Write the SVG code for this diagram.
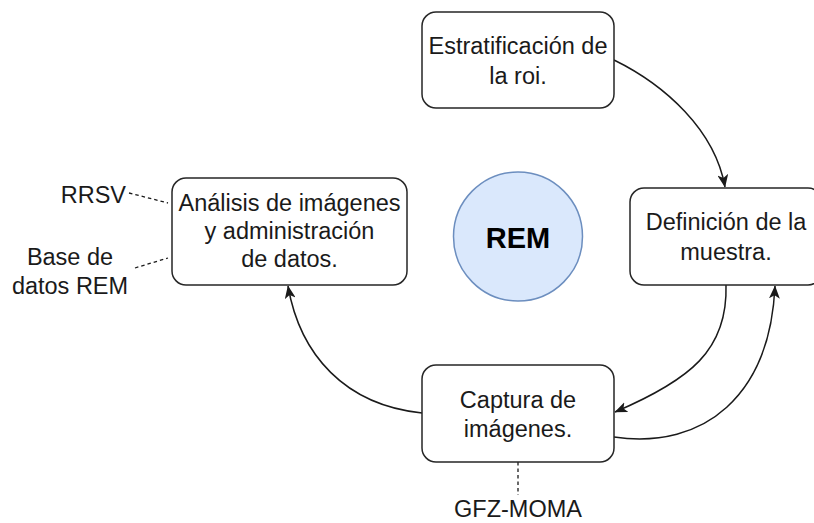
<svg xmlns="http://www.w3.org/2000/svg" width="814" height="523" viewBox="0 0 814 523">
<defs>
<style>
.box{fill:#ffffff;stroke:#262626;stroke-width:1.5}
.t{font-family:"Liberation Sans",Arial,sans-serif;font-size:23.5px;fill:#1a1a1a;text-anchor:middle}
.edge{fill:none;stroke:#1a1a1a;stroke-width:1.5}
.dash{fill:none;stroke:#1a1a1a;stroke-width:1.3;stroke-dasharray:3.5 3}
</style>
<marker id="arr" viewBox="0 0 12 10" refX="11.5" refY="5" markerWidth="13" markerHeight="11" markerUnits="userSpaceOnUse" orient="auto">
<path d="M0,0 L12,5 L0,10 L3,5 Z" fill="#1a1a1a"/>
</marker>
</defs>
<rect width="814" height="523" fill="#ffffff"/>
<g id="connectors">
<path class="edge" d="M614,60 C665,85 715,130 725,187" marker-end="url(#arr)"/>
<path class="edge" d="M726,285 C728,350 690,380 615,412" marker-end="url(#arr)"/>
<path class="edge" d="M614,437 C705,450 770,395 775,286" marker-end="url(#arr)"/>
<path class="edge" d="M422,413 C345,405 300,355 288,286" marker-end="url(#arr)"/>
<path class="dash" d="M129,193 L168,203"/>
<path class="dash" d="M135,268 L168,258"/>
<path class="dash" d="M518,462 L518,495"/>
</g>
<g id="node-estratificacion">
<rect class="box" x="422" y="12" width="192" height="96" rx="14"/>
<text class="t" x="518" y="54">Estratificación de</text>
<text class="t" x="518" y="84">la roi.</text>
</g>
<g id="node-definicion">
<rect class="box" x="630" y="188" width="192" height="97" rx="14"/>
<text class="t" x="726" y="230">Definición de la</text>
<text class="t" x="726" y="260">muestra.</text>
</g>
<g id="node-captura">
<rect class="box" x="422" y="365" width="192" height="97" rx="14"/>
<text class="t" x="518" y="408">Captura de</text>
<text class="t" x="518" y="437">imágenes.</text>
</g>
<g id="node-analisis">
<rect class="box" x="172" y="178" width="235" height="107" rx="14"/>
<text class="t" x="289.5" y="211">Análisis de imágenes</text>
<text class="t" x="289.5" y="239">y administración</text>
<text class="t" x="289.5" y="267">de datos.</text>
</g>
<g id="node-rem">
<circle cx="518" cy="236.5" r="64.5" fill="#dae8fc" stroke="#6c8ebf" stroke-width="1.5"/>
<text x="518" y="248" style="font-family:'Liberation Sans',Arial,sans-serif;font-size:29px;font-weight:bold;fill:#000000;text-anchor:middle">REM</text>
</g>
<g id="label-rrsv">
<text class="t" x="126" y="203" style="text-anchor:end">RRSV</text>
</g>
<g id="label-base">
<text class="t" x="70" y="265">Base de</text>
<text class="t" x="70" y="294">datos REM</text>
</g>
<g id="label-gfz">
<text class="t" x="518" y="517">GFZ-MOMA</text>
</g>
</svg>
